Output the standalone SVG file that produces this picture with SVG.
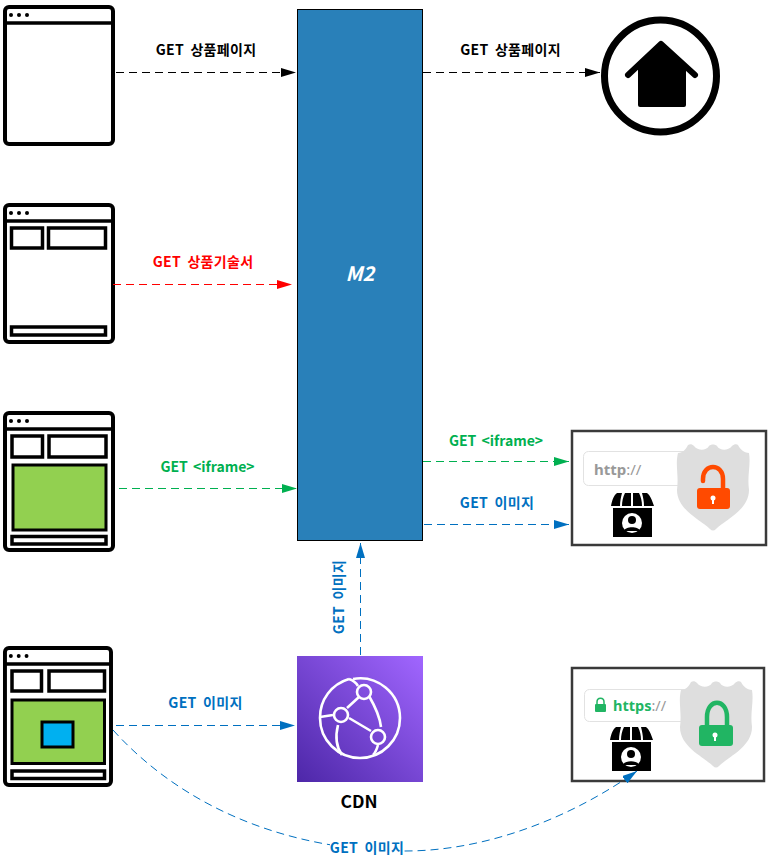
<svg xmlns="http://www.w3.org/2000/svg" width="770" height="861" viewBox="0 0 770 861">
<style>
text{font-family:"Noto Sans CJK KR","Noto Sans",sans-serif;font-weight:700;font-size:14px;text-anchor:middle}
.l{letter-spacing:.3px;word-spacing:3px}
.f{letter-spacing:0;word-spacing:2px}
.k{fill:#000}.r{fill:#f00}.g{fill:#00b050}.b{fill:#0070c0}
.c{fill:none;stroke-width:1;stroke-dasharray:8 5}
.w{fill:#fff;stroke:#000;stroke-width:4}
.wb{fill:none;stroke:#000;stroke-width:3.5}
.panel{fill:#fff;stroke:#3a3a3a;stroke-width:2.5}
.url{fill:#fff;stroke:#e2e2e2;stroke-width:1}
.shield{fill:#dedede}
.globe{fill:none;stroke:#fff;stroke-width:2.6}
</style>
<defs>
<marker id="ak" markerUnits="userSpaceOnUse" markerWidth="15" markerHeight="9" refX="15" refY="4.5" orient="auto"><path d="M0 0L15 4.5L0 9Z" fill="#000"/></marker>
<marker id="ar" markerUnits="userSpaceOnUse" markerWidth="15" markerHeight="9" refX="15" refY="4.5" orient="auto"><path d="M0 0L15 4.5L0 9Z" fill="#f00"/></marker>
<marker id="ag" markerUnits="userSpaceOnUse" markerWidth="15" markerHeight="9" refX="15" refY="4.5" orient="auto"><path d="M0 0L15 4.5L0 9Z" fill="#00b050"/></marker>
<marker id="ab" markerUnits="userSpaceOnUse" markerWidth="15" markerHeight="9" refX="15" refY="4.5" orient="auto"><path d="M0 0L15 4.5L0 9Z" fill="#0070c0"/></marker>
<linearGradient id="cdn" x1="0" y1="1" x2="1" y2="0"><stop offset="0" stop-color="#4d27a8"/><stop offset="1" stop-color="#a166ff"/></linearGradient>
<g id="chrome">
<rect x="5" y="2" width="108" height="137" rx="4" class="w"/>
<path d="M5 18H113" class="wb"/>
<circle cx="11" cy="10" r="2"/><circle cx="19" cy="10" r="2"/><circle cx="27" cy="10" r="2"/>
</g>
<g id="store">
<path d="M611 506C612 500 614 495 617 493H622C621 497 620 501 620 506Z M622 506C622 501 623 497 625 493H631V506Z M633 506V493H639C641 497 642 501 642 506Z M644 506C644 501 643 497 642 493H647C650 495 652 500 654 506Z"/>
<rect x="613" y="508" width="39" height="29"/>
<circle cx="632" cy="523" r="10" fill="#fff"/>
<circle cx="632" cy="520" r="4"/>
<path d="M624 531C625 526 639 526 640 531Z"/>
</g>
<path id="shieldp" class="shield" d="M678 453C683 453 686 449 688 445C690 444 692 444 694 446C698 451 706 451 709 446C711 444 715 444 717 446C720 451 728 451 732 446C734 444 737 444 738 445C740 449 744 453 749 453C751 465 747 475 749 490C749 510 725 520 716 529C714 531 712 531 710 529C701 520 677 510 677 490C679 475 675 465 678 453Z"/>
</defs>

<g id="browser-1"><use href="#chrome" y="5"/></g>
<g id="browser-2">
<use href="#chrome" y="203"/>
<rect x="11.500" y="228" width="31" height="20" class="wb"/>
<rect x="48.500" y="228" width="57" height="20" class="wb"/>
<rect x="11.500" y="327" width="94" height="8" class="wb"/>
</g>
<g id="browser-3">
<use href="#chrome" y="411"/>
<rect x="12" y="436" width="30.500" height="21" class="wb"/>
<rect x="49" y="436" width="57" height="21" class="wb"/>
<rect x="13" y="465" width="93" height="65" fill="#92d050" stroke="#000" stroke-width="3"/>
<rect x="12" y="536.500" width="94" height="7.500" class="wb"/>
</g>
<g id="browser-4">
<use href="#chrome" transform="translate(.05 646) scale(.982 1)"/>
<rect x="12" y="671" width="29.500" height="20" class="wb"/>
<rect x="49" y="671" width="55.500" height="20" class="wb"/>
<rect x="12" y="700" width="92.500" height="63.500" fill="#92d050" stroke="#000" stroke-width="3"/>
<rect x="42" y="722" width="31" height="25" fill="#00b0f0" stroke="#000" stroke-width="3"/>
<rect x="12" y="771" width="92.500" height="7.500" class="wb"/>
</g>

<g id="m2">
<rect x="297.500" y="9.500" width="125" height="531" fill="#2980b9" stroke="#000" stroke-width="1"/>
<text x="360" y="281" fill="#fff" font-style="italic" style="font-size:20px">M2</text>
</g>

<g id="home">
<circle cx="660.500" cy="76" r="56" fill="#fff" stroke="#000" stroke-width="7"/>
<path d="M628 75L661 44L695 75" fill="none" stroke="#000" stroke-width="6" stroke-linecap="round" stroke-linejoin="round"/>
<path d="M638 67L661 45L686 67V105Q686 107 684 107H640Q638 107 638 105Z"/>
</g>

<g id="cdn-node">
<rect x="297" y="656" width="126" height="126" fill="url(#cdn)"/>
<path class="globe" d="M349 679A40 40 0 0 0 320 718A40 40 0 0 0 360 758A40 40 0 0 0 400 718A40 40 0 0 0 353 679"/>
<circle class="globe" cx="364" cy="692" r="7"/>
<circle class="globe" cx="341" cy="715" r="7"/>
<circle class="globe" cx="378" cy="737" r="7"/>
<path class="globe" d="M349 679Q355 681 358 686M369 696C376 708 380 718 381 727M359 697L347 708M349 718L371 731M338 725C335 737 337 748 342 755M378 745Q376 752 373 755M320 717L333 715"/>
<text x="359" y="808" style="font-size:17.500px" class="k">CDN</text>
</g>

<g id="site-http">
<rect x="572" y="431" width="194" height="114" class="panel"/>
<rect x="583.500" y="451.500" width="110" height="34" rx="5" class="url"/>
<text x="594" y="475" fill="#999" style="font-family:'Noto Sans',sans-serif;font-size:15px;text-anchor:start">http<tspan font-weight="400">://</tspan></text>
<use href="#shieldp"/>
<path d="M703 481V479C703 463 723 463 723 479V489" fill="none" stroke="#ff4a00" stroke-width="4.500" stroke-linecap="round"/>
<rect x="697" y="488" width="33" height="21" rx="3" fill="#ff4a00"/>
<circle cx="713" cy="498" r="2.500" fill="#fff"/><rect x="712" y="499" width="2" height="5" fill="#fff"/>
<use href="#store"/>
</g>

<g id="site-https">
<rect x="572" y="668" width="192" height="113" class="panel"/>
<rect x="584.500" y="689.500" width="110" height="32" rx="5" class="url"/>
<path d="M597 704V702C597 697 604 697 604 702V704" fill="none" stroke="#21b563" stroke-width="1.500"/>
<rect x="595" y="704" width="11" height="8" rx="1" fill="#21b563"/>
<text x="613" y="711" fill="#21b563" style="font-family:'Noto Sans',sans-serif;font-size:14.500px;text-anchor:start">https<tspan fill="#999" font-weight="400">://</tspan></text>
<use href="#shieldp" x="3" y="237"/>
<path d="M707 725V717C707 698 727 698 727 717V725" fill="none" stroke="#21b563" stroke-width="4.500"/>
<rect x="699" y="725" width="34" height="21" rx="3" fill="#21b563"/>
<circle cx="715" cy="735" r="2.500" fill="#fff"/><rect x="714" y="736" width="2" height="5" fill="#fff"/>
<use href="#store" x="-1" y="234"/>
</g>

<g id="connectors">
<path d="M116 72.500H296" class="c" stroke="#000" marker-end="url(#ak)"/>
<path d="M113 284.500H292" class="c" stroke="#f00" marker-end="url(#ar)"/>
<path d="M119 488.500H297" class="c" stroke="#00b050" marker-end="url(#ag)"/>
<path d="M423 72.500H600" class="c" stroke="#000" marker-end="url(#ak)"/>
<path d="M423 461.500H569" class="c" stroke="#00b050" marker-end="url(#ag)"/>
<path d="M424 524.500H569" class="c" stroke="#0070c0" marker-end="url(#ab)"/>
<path d="M360.500 655V543" class="c" stroke="#0070c0" marker-end="url(#ab)"/>
<path d="M116 725.500H295" class="c" stroke="#0070c0" marker-end="url(#ab)"/>
<path d="M113 730C190 815 300 851 405 851C490 851 575 815 637 771" class="c" stroke="#0070c0" marker-end="url(#ab)"/>
</g>

<g id="labels">
<text x="206" y="55" class="k l">GET 상품페이지</text>
<text x="510.500" y="55" class="k l">GET 상품페이지</text>
<text x="203" y="267" class="r l">GET 상품기술서</text>
<text x="207.500" y="472" class="g f">GET &lt;iframe&gt;</text>
<text x="496" y="446" class="g f">GET &lt;iframe&gt;</text>
<text x="497" y="508" class="b l">GET 이미지</text>
<text x="205.500" y="708" class="b l">GET 이미지</text>
<text transform="translate(344 597) rotate(-90)" class="b l">GET 이미지</text>
<rect x="330" y="840" width="74" height="17" fill="#fff"/>
<text x="367" y="853" class="b l">GET 이미지</text>
</g>
</svg>
